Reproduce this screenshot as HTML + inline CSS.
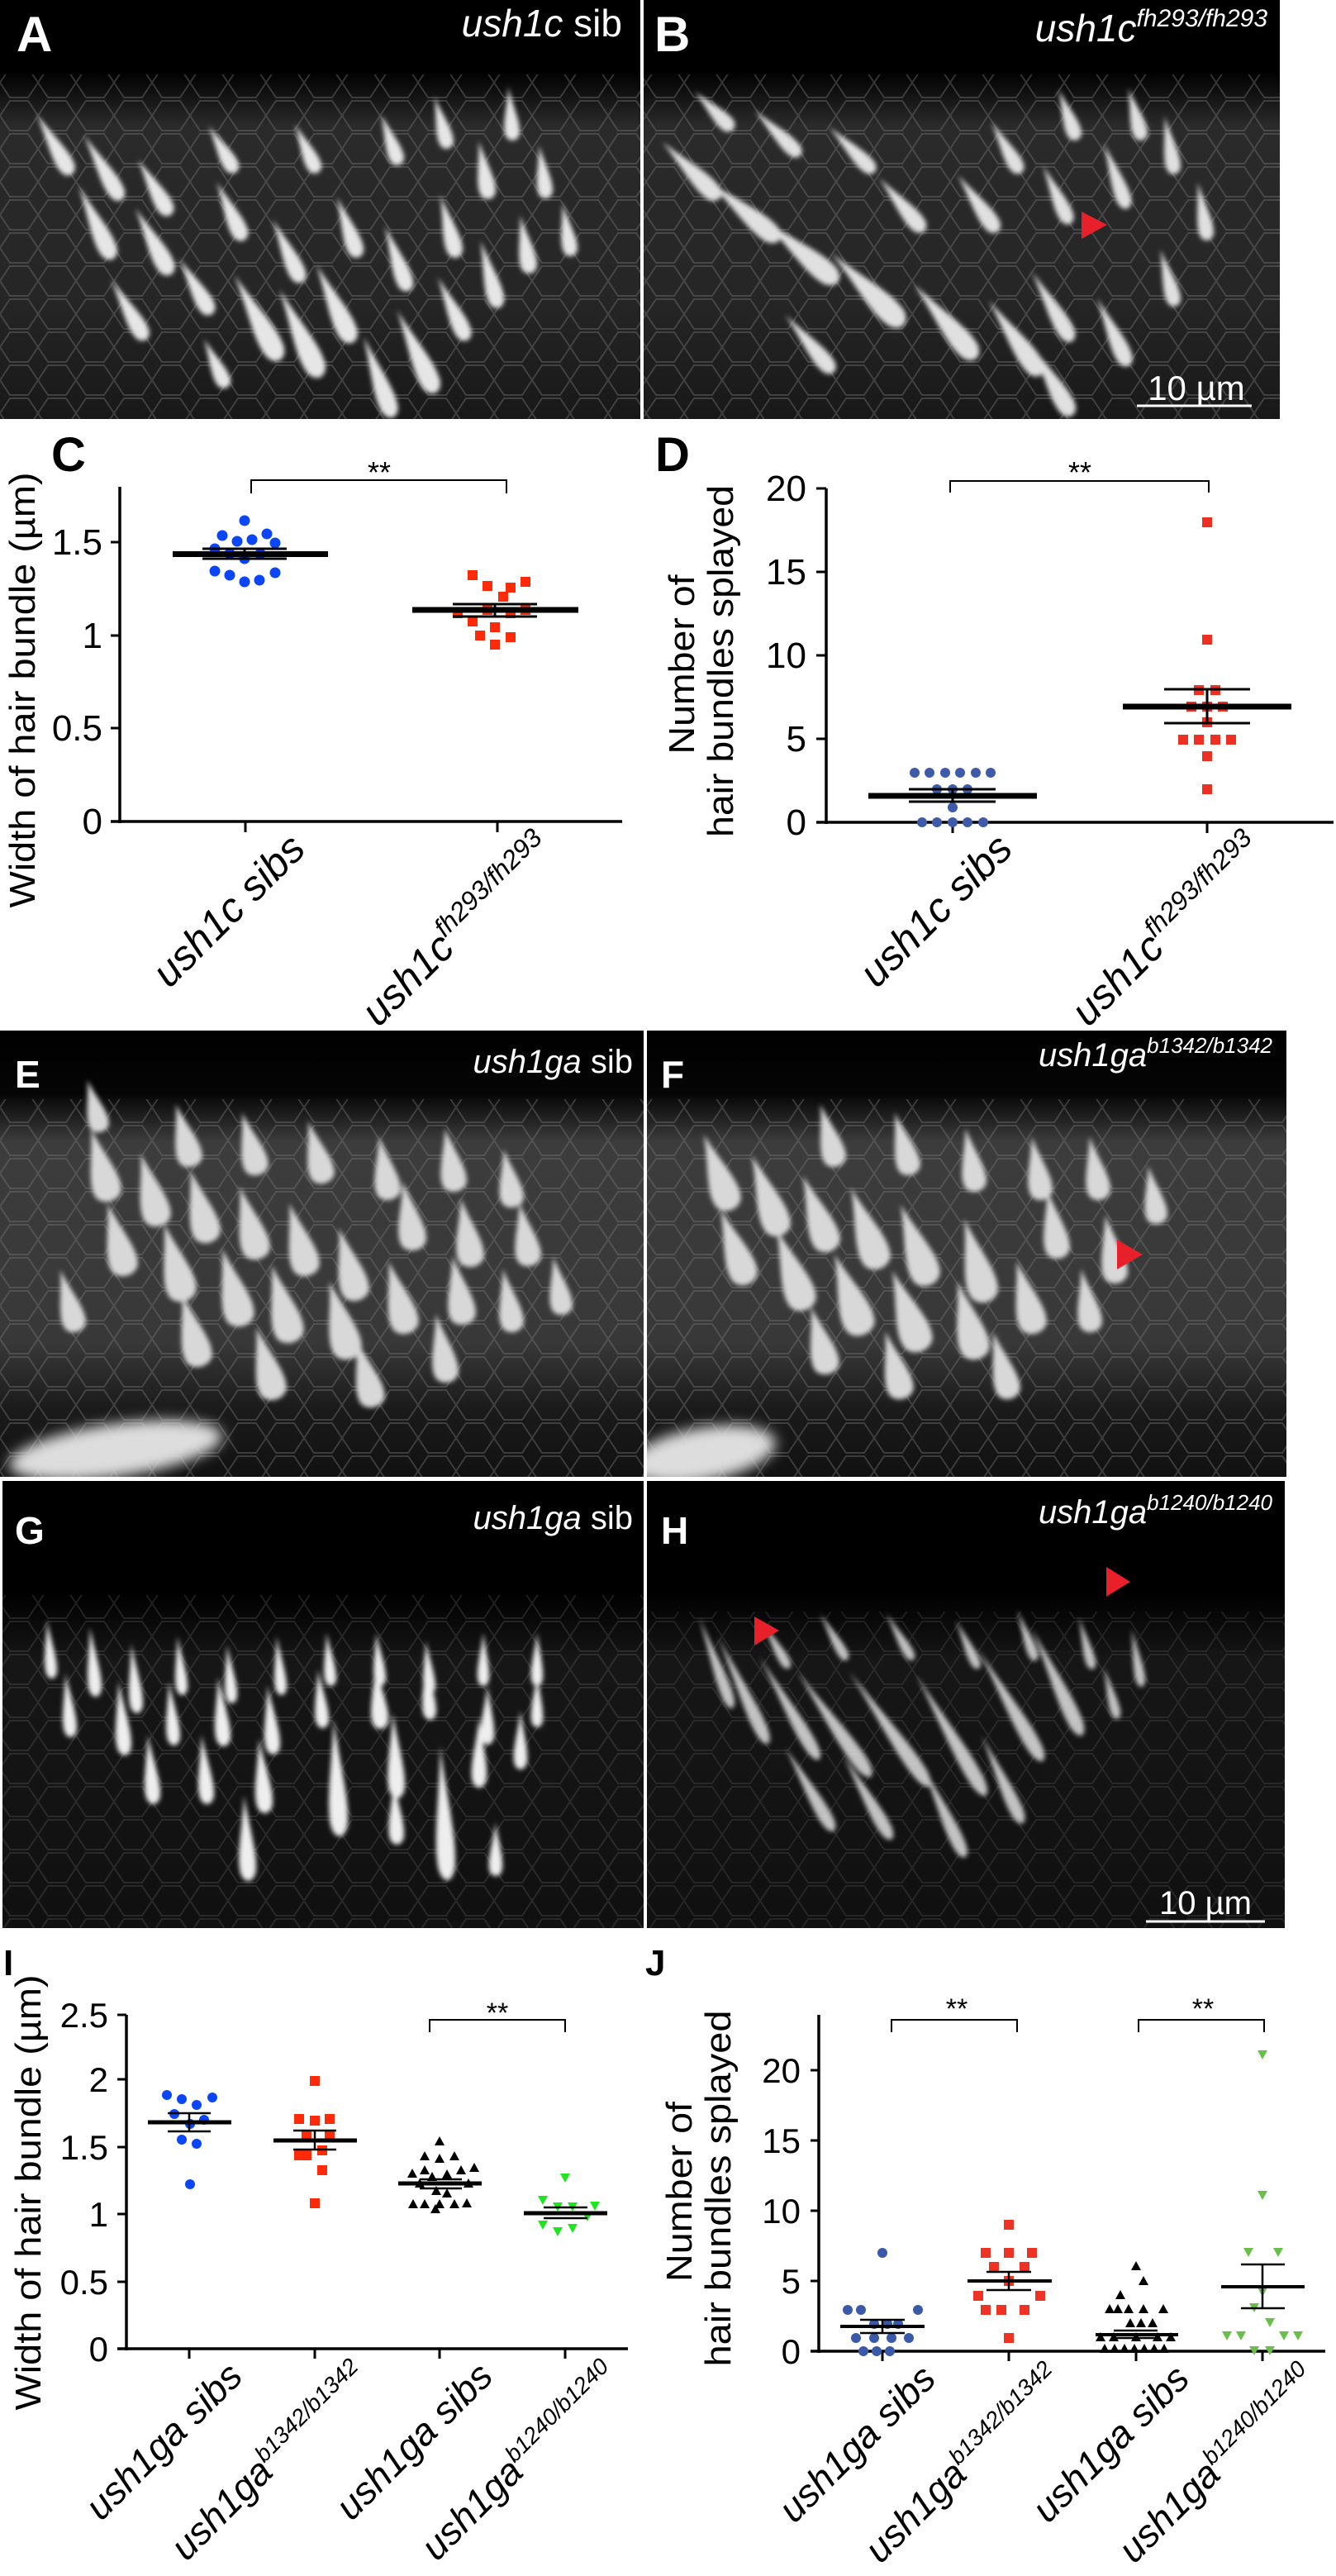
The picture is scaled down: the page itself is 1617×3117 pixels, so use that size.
<!DOCTYPE html>
<html><head><meta charset="utf-8"><style>
html,body{margin:0;padding:0;background:#fff;}
svg{display:block;}
text{font-family:"Liberation Sans",sans-serif;}
</style></head><body>
<svg width="1617" height="3117" viewBox="0 0 1617 3117" xmlns="http://www.w3.org/2000/svg">
<defs>
<filter id="bl" x="-50%" y="-50%" width="200%" height="200%"><feGaussianBlur stdDeviation="3"/></filter>
<filter id="bl2" x="-50%" y="-50%" width="200%" height="200%"><feGaussianBlur stdDeviation="8"/></filter>
<path id="cone" d="M0,-55 C3,-35 12,-12 10,0 A10,10 0 0 1 -10,0 C-12,-12 -3,-35 0,-55Z"/>
<pattern id="mesh" width="46" height="40" patternUnits="userSpaceOnUse">
<path d="M0,20 L12,2 L34,2 L46,20 L34,38 L12,38 Z" fill="none" stroke="#777" stroke-width="2" opacity="0.4"/>
</pattern>
<linearGradient id="gA" x1="0" y1="0" x2="0" y2="1"><stop offset="0" stop-color="#000"/><stop offset="0.17" stop-color="#000"/><stop offset="0.3" stop-color="#2a2a2a"/><stop offset="0.7" stop-color="#262626"/><stop offset="1" stop-color="#181818"/></linearGradient>
<linearGradient id="gE" x1="0" y1="0" x2="0" y2="1"><stop offset="0" stop-color="#000"/><stop offset="0.14" stop-color="#050505"/><stop offset="0.25" stop-color="#3c3c3c"/><stop offset="0.7" stop-color="#383838"/><stop offset="0.85" stop-color="#1a1a1a"/><stop offset="1" stop-color="#111"/></linearGradient>
<linearGradient id="gG" x1="0" y1="0" x2="0" y2="1"><stop offset="0" stop-color="#000"/><stop offset="0.25" stop-color="#000"/><stop offset="0.4" stop-color="#161616"/><stop offset="1" stop-color="#101010"/></linearGradient>
<clipPath id="cA"><rect x="0" y="0" width="775" height="507"/></clipPath>
<clipPath id="cB"><rect x="779" y="0" width="770" height="507"/></clipPath>
<clipPath id="cE"><rect x="0" y="1247" width="779" height="540"/></clipPath>
<clipPath id="cF"><rect x="783" y="1247" width="774" height="540"/></clipPath>
<clipPath id="cG"><rect x="3" y="1792" width="776" height="541"/></clipPath>
<clipPath id="cH"><rect x="783" y="1792" width="772" height="541"/></clipPath>
</defs>

<!-- Panel A -->
<g clip-path="url(#cA)">
<rect x="0" y="0" width="775" height="507" fill="url(#gA)"/>
<rect x="0" y="90" width="775" height="417" fill="url(#mesh)"/>
<g fill="#e6e6e6" filter="url(#bl)">
<use href="#cone" transform="translate(80,200) rotate(-30) scale(1,1.3)"/>
<use href="#cone" transform="translate(140,230) rotate(-30) scale(1,1.4)"/>
<use href="#cone" transform="translate(200,250) rotate(-30) scale(1,1.2)"/>
<use href="#cone" transform="translate(130,300) rotate(-25) scale(1.1,1.5)"/>
<use href="#cone" transform="translate(200,320) rotate(-28) scale(1.1,1.4)"/>
<use href="#cone" transform="translate(250,370) rotate(-30) scale(1,1.2)"/>
<use href="#cone" transform="translate(170,400) rotate(-30) scale(1,1.3)"/>
<use href="#cone" transform="translate(290,280) rotate(-25) scale(1,1.2)"/>
<use href="#cone" transform="translate(330,420) rotate(-28) scale(1.3,1.8)"/>
<use href="#cone" transform="translate(380,440) rotate(-25) scale(1.3,1.8)"/>
<use href="#cone" transform="translate(420,400) rotate(-25) scale(1.2,1.6)"/>
<use href="#cone" transform="translate(520,460) rotate(-25) scale(1.2,1.7)"/>
<use href="#cone" transform="translate(470,490) rotate(-20) scale(1.1,1.6)"/>
<use href="#cone" transform="translate(560,400) rotate(-25) scale(1,1.3)"/>
<use href="#cone" transform="translate(360,330) rotate(-25) scale(1,1.3)"/>
<use href="#cone" transform="translate(430,300) rotate(-20) scale(1,1.2)"/>
<use href="#cone" transform="translate(490,340) rotate(-20) scale(1,1.3)"/>
<use href="#cone" transform="translate(550,300) rotate(-15) scale(1,1.2)"/>
<use href="#cone" transform="translate(600,360) rotate(-15) scale(1,1.3)"/>
<use href="#cone" transform="translate(640,320) rotate(-10) scale(1,1.1)"/>
<use href="#cone" transform="translate(620,160) rotate(-5) scale(0.9,1)"/>
<use href="#cone" transform="translate(590,230) rotate(-10) scale(1,1.1)"/>
<use href="#cone" transform="translate(660,230) rotate(-8) scale(0.9,1)"/>
<use href="#cone" transform="translate(540,170) rotate(-15) scale(0.9,1)"/>
<use href="#cone" transform="translate(480,190) rotate(-20) scale(0.9,1)"/>
<use href="#cone" transform="translate(380,200) rotate(-25) scale(0.9,1)"/>
<use href="#cone" transform="translate(280,200) rotate(-30) scale(0.9,1)"/>
<use href="#cone" transform="translate(690,300) rotate(-10) scale(0.9,1)"/>
<use href="#cone" transform="translate(270,460) rotate(-25) scale(0.9,1)"/>
</g>
</g>
<text x="753" y="44" font-size="46" fill="#fff" text-anchor="end"><tspan font-style="italic">ush1c</tspan> sib</text>
<text x="20" y="62" font-size="60" font-weight="bold" fill="#fff">A</text>

<!-- Panel B -->
<g clip-path="url(#cB)">
<rect x="779" y="0" width="770" height="507" fill="url(#gA)"/>
<rect x="779" y="90" width="770" height="417" fill="url(#mesh)"/>
<g fill="#e0e0e0" filter="url(#bl)">
<use href="#cone" transform="translate(860,230) rotate(-45) scale(1.1,1.5)"/>
<use href="#cone" transform="translate(930,280) rotate(-50) scale(1.2,1.7)"/>
<use href="#cone" transform="translate(1000,330) rotate(-50) scale(1.3,1.8)"/>
<use href="#cone" transform="translate(1080,380) rotate(-45) scale(1.4,1.9)"/>
<use href="#cone" transform="translate(1170,420) rotate(-40) scale(1.3,1.8)"/>
<use href="#cone" transform="translate(1250,440) rotate(-35) scale(1.2,1.7)"/>
<use href="#cone" transform="translate(1290,400) rotate(-30) scale(1,1.5)"/>
<use href="#cone" transform="translate(1360,430) rotate(-25) scale(1,1.4)"/>
<use href="#cone" transform="translate(1290,490) rotate(-30) scale(1.1,1.5)"/>
<use href="#cone" transform="translate(1000,440) rotate(-40) scale(1,1.4)"/>
<use href="#cone" transform="translate(1110,270) rotate(-40) scale(1,1.3)"/>
<use href="#cone" transform="translate(1200,270) rotate(-35) scale(1,1.3)"/>
<use href="#cone" transform="translate(1290,260) rotate(-25) scale(0.9,1.2)"/>
<use href="#cone" transform="translate(1360,240) rotate(-20) scale(0.9,1.3)"/>
<use href="#cone" transform="translate(1420,200) rotate(-10) scale(0.9,1.1)"/>
<use href="#cone" transform="translate(1460,280) rotate(-10) scale(0.9,1.1)"/>
<use href="#cone" transform="translate(1380,160) rotate(-15) scale(0.9,1)"/>
<use href="#cone" transform="translate(1300,160) rotate(-20) scale(0.9,1)"/>
<use href="#cone" transform="translate(1230,200) rotate(-30) scale(0.9,1.1)"/>
<use href="#cone" transform="translate(1050,200) rotate(-45) scale(0.9,1.2)"/>
<use href="#cone" transform="translate(960,180) rotate(-45) scale(0.9,1.2)"/>
<use href="#cone" transform="translate(880,150) rotate(-45) scale(0.9,1)"/>
<use href="#cone" transform="translate(1420,360) rotate(-15) scale(0.9,1.1)"/>
</g>
</g>
<polygon points="1309,256 1340,272 1309,289" fill="#e8202a"/>
<text x="1534" y="50" font-size="46" fill="#fff" text-anchor="end" font-style="italic">ush1c<tspan font-size="30" dy="-18">fh293/fh293</tspan></text>
<text x="792" y="62" font-size="60" font-weight="bold" fill="#fff">B</text>
<line x1="1376" y1="491" x2="1515" y2="491" stroke="#fff" stroke-width="3"/>
<text x="1448" y="484" font-size="42" fill="#fff" text-anchor="middle">10 µm</text>

<!-- Chart C -->
<text x="62" y="570" font-size="58" font-weight="bold" fill="#000">C</text>
<g stroke="#000" fill="none">
<line x1="145" y1="589" x2="145" y2="996" stroke-width="3.5"/>
<line x1="134" y1="994" x2="753" y2="994" stroke-width="3.5"/>
<line x1="134" y1="881" x2="145" y2="881" stroke-width="3"/>
<line x1="134" y1="769" x2="145" y2="769" stroke-width="3"/>
<line x1="134" y1="656" x2="145" y2="656" stroke-width="3"/>
<line x1="297" y1="994" x2="297" y2="1007" stroke-width="3"/>
<line x1="602" y1="994" x2="602" y2="1007" stroke-width="3"/>
<polyline points="304,597 304,581 613,581 613,597" stroke-width="2"/>
</g>
<text x="459" y="584" font-size="36" text-anchor="middle">**</text>
<g font-size="44" text-anchor="end" fill="#000">
<text x="124" y="1009">0</text><text x="124" y="896">0.5</text><text x="124" y="784">1</text><text x="124" y="671">1.5</text>
</g>
<text transform="translate(42,835) rotate(-90)" font-size="44" text-anchor="middle" textLength="527" lengthAdjust="spacingAndGlyphs">Width of hair bundle (µm)</text>
<g fill="#0a46f5">
<circle cx="296" cy="630" r="6.5"/><circle cx="269" cy="648" r="6.5"/><circle cx="287" cy="655" r="6.5"/><circle cx="305" cy="653" r="6.5"/><circle cx="323" cy="646" r="6.5"/><circle cx="333" cy="657" r="6.5"/><circle cx="260" cy="664" r="6.5"/><circle cx="278" cy="670" r="6.5"/><circle cx="315" cy="670" r="6.5"/><circle cx="296" cy="676" r="6.5"/><circle cx="260" cy="691" r="6.5"/><circle cx="278" cy="696" r="6.5"/><circle cx="296" cy="704" r="6.5"/><circle cx="314" cy="702" r="6.5"/><circle cx="333" cy="693" r="6.5"/>
</g>
<g fill="#ff2a0a">
<rect x="566" y="690" width="12" height="12"/><rect x="584" y="703" width="12" height="12"/><rect x="612" y="705" width="12" height="12"/><rect x="630" y="698" width="12" height="12"/><rect x="603" y="716" width="12" height="12"/><rect x="548" y="736" width="12" height="12"/><rect x="584" y="732" width="12" height="12"/><rect x="612" y="736" width="12" height="12"/><rect x="630" y="732" width="12" height="12"/><rect x="566" y="746" width="12" height="12"/><rect x="593" y="753" width="12" height="12"/><rect x="575" y="763" width="12" height="12"/><rect x="612" y="765" width="12" height="12"/><rect x="593" y="774" width="12" height="12"/>
</g>
<g stroke="#000">
<line x1="209" y1="670.5" x2="397" y2="670.5" stroke-width="7"/>
<line x1="245" y1="664" x2="347" y2="664" stroke-width="3"/><line x1="245" y1="676" x2="347" y2="676" stroke-width="3"/><line x1="296" y1="664" x2="296" y2="676" stroke-width="3"/>
<line x1="499" y1="738" x2="700" y2="738" stroke-width="7"/>
<line x1="548" y1="731" x2="650" y2="731" stroke-width="3"/><line x1="548" y1="746" x2="650" y2="746" stroke-width="3"/><line x1="599" y1="731" x2="599" y2="746" stroke-width="3"/>
</g>
<g font-size="50" font-style="italic" text-anchor="end">
<text transform="translate(372,1030) rotate(-45)">ush1c sibs</text>
<text transform="translate(672,1030) rotate(-45)">ush1c<tspan font-size="32" dy="-20">fh293/fh293</tspan></text>
</g>

<!-- Chart D -->
<text x="793" y="570" font-size="58" font-weight="bold" fill="#000">D</text>
<g stroke="#000" fill="none">
<line x1="1000" y1="591" x2="1000" y2="997" stroke-width="3.5"/>
<line x1="988" y1="995" x2="1614" y2="995" stroke-width="3.5"/>
<line x1="988" y1="894" x2="1000" y2="894" stroke-width="3"/><line x1="988" y1="793" x2="1000" y2="793" stroke-width="3"/><line x1="988" y1="692" x2="1000" y2="692" stroke-width="3"/><line x1="988" y1="591" x2="1000" y2="591" stroke-width="3"/>
<line x1="1153" y1="995" x2="1153" y2="1008" stroke-width="3"/><line x1="1461" y1="995" x2="1461" y2="1008" stroke-width="3"/>
<polyline points="1150,596 1150,582 1463,582 1463,596" stroke-width="2"/>
</g>
<text x="1307" y="584" font-size="36" text-anchor="middle">**</text>
<g font-size="44" text-anchor="end">
<text x="976" y="1010">0</text><text x="976" y="909">5</text><text x="976" y="808">10</text><text x="976" y="707">15</text><text x="976" y="606">20</text>
</g>
<text transform="translate(840,804) rotate(-90)" font-size="44" text-anchor="middle" textLength="217" lengthAdjust="spacingAndGlyphs">Number of</text>
<text transform="translate(887,800) rotate(-90)" font-size="44" text-anchor="middle" textLength="426" lengthAdjust="spacingAndGlyphs">hair bundles splayed</text>
<g fill="#3f5aa8">
<circle cx="1107" cy="935" r="6"/><circle cx="1125" cy="935" r="6"/><circle cx="1144" cy="935" r="6"/><circle cx="1162" cy="935" r="6"/><circle cx="1181" cy="935" r="6"/><circle cx="1199" cy="935" r="6"/>
<circle cx="1134" cy="955" r="6"/><circle cx="1153" cy="955" r="6"/><circle cx="1171" cy="955" r="6"/><circle cx="1153" cy="977" r="6"/>
<circle cx="1116" cy="995" r="6"/><circle cx="1134" cy="995" r="6"/><circle cx="1153" cy="995" r="6"/><circle cx="1171" cy="995" r="6"/><circle cx="1190" cy="995" r="6"/>
</g>
<g fill="#ee3024">
<rect x="1455" y="626" width="12" height="12"/><rect x="1455" y="768" width="12" height="12"/><rect x="1445" y="829" width="12" height="12"/><rect x="1465" y="829" width="12" height="12"/><rect x="1436" y="849" width="12" height="12"/><rect x="1455" y="849" width="12" height="12"/><rect x="1474" y="849" width="12" height="12"/><rect x="1455" y="868" width="12" height="12"/><rect x="1426" y="889" width="12" height="12"/><rect x="1445" y="889" width="12" height="12"/><rect x="1465" y="889" width="12" height="12"/><rect x="1484" y="889" width="12" height="12"/><rect x="1455" y="909" width="12" height="12"/><rect x="1455" y="949" width="12" height="12"/>
</g>
<g stroke="#000">
<line x1="1051" y1="963" x2="1255" y2="963" stroke-width="7"/>
<line x1="1100" y1="955" x2="1205" y2="955" stroke-width="3"/><line x1="1100" y1="970" x2="1205" y2="970" stroke-width="3"/><line x1="1153" y1="955" x2="1153" y2="970" stroke-width="3"/>
<line x1="1359" y1="855" x2="1563" y2="855" stroke-width="7"/>
<line x1="1409" y1="834" x2="1513" y2="834" stroke-width="3"/><line x1="1409" y1="875" x2="1513" y2="875" stroke-width="3"/><line x1="1461" y1="834" x2="1461" y2="875" stroke-width="3"/>
</g>
<g font-size="50" font-style="italic" text-anchor="end">
<text transform="translate(1228,1030) rotate(-45)">ush1c sibs</text>
<text transform="translate(1531,1030) rotate(-45)">ush1c<tspan font-size="32" dy="-20">fh293/fh293</tspan></text>
</g>

<!-- Panel E -->
<g clip-path="url(#cE)">
<rect x="0" y="1247" width="779" height="540" fill="url(#gE)"/>
<rect x="0" y="1330" width="779" height="457" fill="url(#mesh)"/>
<g fill="#d8d8d8" filter="url(#bl)">
<use href="#cone" transform="translate(130,1440) rotate(-15) scale(1.7,1.4)"/><use href="#cone" transform="translate(190,1470) rotate(-15) scale(1.7,1.4)"/><use href="#cone" transform="translate(250,1490) rotate(-15) scale(1.7,1.4)"/><use href="#cone" transform="translate(310,1510) rotate(-15) scale(1.7,1.4)"/><use href="#cone" transform="translate(370,1530) rotate(-15) scale(1.7,1.4)"/><use href="#cone" transform="translate(430,1560) rotate(-15) scale(1.7,1.4)"/>
<use href="#cone" transform="translate(150,1530) rotate(-15) scale(1.7,1.4)"/><use href="#cone" transform="translate(220,1560) rotate(-15) scale(1.8,1.5)"/><use href="#cone" transform="translate(290,1590) rotate(-15) scale(1.8,1.5)"/><use href="#cone" transform="translate(350,1610) rotate(-15) scale(1.8,1.5)"/><use href="#cone" transform="translate(420,1630) rotate(-15) scale(1.8,1.5)"/><use href="#cone" transform="translate(490,1600) rotate(-15) scale(1.7,1.4)"/>
<use href="#cone" transform="translate(240,1640) rotate(-15) scale(1.7,1.4)"/><use href="#cone" transform="translate(330,1680) rotate(-15) scale(1.7,1.4)"/><use href="#cone" transform="translate(450,1690) rotate(-15) scale(1.6,1.3)"/>
<use href="#cone" transform="translate(230,1400) rotate(-15) scale(1.5,1.2)"/><use href="#cone" transform="translate(310,1410) rotate(-15) scale(1.5,1.2)"/><use href="#cone" transform="translate(390,1420) rotate(-15) scale(1.5,1.2)"/><use href="#cone" transform="translate(470,1440) rotate(-10) scale(1.5,1.2)"/><use href="#cone" transform="translate(550,1430) rotate(-10) scale(1.5,1.2)"/><use href="#cone" transform="translate(620,1450) rotate(-10) scale(1.4,1.1)"/>
<use href="#cone" transform="translate(500,1500) rotate(-10) scale(1.6,1.3)"/><use href="#cone" transform="translate(570,1520) rotate(-10) scale(1.6,1.3)"/><use href="#cone" transform="translate(640,1520) rotate(-10) scale(1.5,1.2)"/><use href="#cone" transform="translate(560,1590) rotate(-10) scale(1.6,1.3)"/><use href="#cone" transform="translate(620,1600) rotate(-10) scale(1.4,1.2)"/>
<use href="#cone" transform="translate(540,1660) rotate(-10) scale(1.5,1.3)"/><use href="#cone" transform="translate(120,1360) rotate(-15) scale(1.2,1)"/>
<use href="#cone" transform="translate(680,1580) rotate(-10) scale(1.3,1.1)"/><use href="#cone" transform="translate(90,1600) rotate(-15) scale(1.4,1.2)"/>
</g>
<ellipse cx="140" cy="1755" rx="130" ry="32" transform="rotate(-8 140 1755)" fill="#ddd" filter="url(#bl2)"/>
</g>
<text x="766" y="1298" font-size="40" fill="#fff" text-anchor="end"><tspan font-style="italic">ush1ga</tspan> sib</text>
<text x="18" y="1316" font-size="46" font-weight="bold" fill="#fff">E</text>

<!-- Panel F -->
<g clip-path="url(#cF)">
<rect x="783" y="1247" width="774" height="540" fill="url(#gE)"/>
<rect x="783" y="1330" width="774" height="457" fill="url(#mesh)"/>
<g fill="#d8d8d8" filter="url(#bl)">
<use href="#cone" transform="translate(880,1450) rotate(-20) scale(1.7,1.5)"/><use href="#cone" transform="translate(940,1480) rotate(-20) scale(1.7,1.6)"/><use href="#cone" transform="translate(1000,1500) rotate(-20) scale(1.7,1.5)"/><use href="#cone" transform="translate(1060,1520) rotate(-20) scale(1.8,1.6)"/><use href="#cone" transform="translate(1120,1540) rotate(-20) scale(1.8,1.6)"/><use href="#cone" transform="translate(1190,1560) rotate(-15) scale(1.8,1.6)"/>
<use href="#cone" transform="translate(900,1540) rotate(-20) scale(1.7,1.5)"/><use href="#cone" transform="translate(970,1570) rotate(-20) scale(1.8,1.6)"/><use href="#cone" transform="translate(1040,1600) rotate(-20) scale(1.9,1.6)"/><use href="#cone" transform="translate(1110,1620) rotate(-20) scale(1.9,1.6)"/><use href="#cone" transform="translate(1180,1630) rotate(-15) scale(1.8,1.5)"/><use href="#cone" transform="translate(1250,1600) rotate(-15) scale(1.7,1.4)"/>
<use href="#cone" transform="translate(1000,1650) rotate(-15) scale(1.6,1.3)"/><use href="#cone" transform="translate(1090,1680) rotate(-15) scale(1.6,1.3)"/><use href="#cone" transform="translate(1220,1680) rotate(-15) scale(1.5,1.3)"/>
<use href="#cone" transform="translate(1010,1400) rotate(-15) scale(1.4,1.2)"/><use href="#cone" transform="translate(1100,1410) rotate(-15) scale(1.4,1.2)"/><use href="#cone" transform="translate(1180,1430) rotate(-10) scale(1.4,1.2)"/><use href="#cone" transform="translate(1260,1440) rotate(-10) scale(1.4,1.2)"/><use href="#cone" transform="translate(1330,1440) rotate(-10) scale(1.4,1.2)"/><use href="#cone" transform="translate(1400,1470) rotate(-10) scale(1.3,1.1)"/>
<use href="#cone" transform="translate(1280,1510) rotate(-10) scale(1.5,1.3)"/><use href="#cone" transform="translate(1350,1540) rotate(-10) scale(1.5,1.3)"/><use href="#cone" transform="translate(1320,1600) rotate(-10) scale(1.4,1.2)"/>
</g>
<ellipse cx="850" cy="1760" rx="90" ry="32" transform="rotate(-10 850 1760)" fill="#ddd" filter="url(#bl2)"/>
</g>
<polygon points="1352,1500 1383,1518 1352,1536" fill="#e8202a"/>
<text x="1540" y="1290" font-size="40" fill="#fff" text-anchor="end" font-style="italic">ush1ga<tspan font-size="26" dy="-16">b1342/b1342</tspan></text>
<text x="800" y="1316" font-size="46" font-weight="bold" fill="#fff">F</text>

<!-- Panel G -->
<g clip-path="url(#cG)">
<rect x="3" y="1792" width="776" height="541" fill="url(#gG)"/>
<rect x="3" y="1930" width="776" height="403" fill="url(#mesh)" opacity="0.6"/>
<g fill="#eee" filter="url(#bl)">
<use href="#cone" transform="translate(62,2020) rotate(-5) scale(0.7,1.1)"/><use href="#cone" transform="translate(115,2040) rotate(-5) scale(0.8,1.3)"/><use href="#cone" transform="translate(165,2060) rotate(-5) scale(0.8,1.3)"/><use href="#cone" transform="translate(220,2040) rotate(-5) scale(0.7,1.1)"/><use href="#cone" transform="translate(280,2050) rotate(-5) scale(0.7,1.1)"/><use href="#cone" transform="translate(340,2040) rotate(-5) scale(0.7,1.1)"/><use href="#cone" transform="translate(400,2030) rotate(-5) scale(0.7,1)"/><use href="#cone" transform="translate(460,2030) rotate(-5) scale(0.7,1)"/><use href="#cone" transform="translate(520,2040) rotate(-5) scale(0.7,1)"/><use href="#cone" transform="translate(585,2030) rotate(0) scale(0.7,1)"/><use href="#cone" transform="translate(650,2030) rotate(0) scale(0.7,1)"/>
<use href="#cone" transform="translate(85,2090) rotate(-5) scale(0.8,1.2)"/><use href="#cone" transform="translate(150,2110) rotate(-5) scale(0.9,1.4)"/><use href="#cone" transform="translate(210,2100) rotate(-5) scale(0.8,1.2)"/><use href="#cone" transform="translate(270,2100) rotate(-5) scale(0.9,1.3)"/><use href="#cone" transform="translate(330,2110) rotate(-5) scale(0.9,1.3)"/><use href="#cone" transform="translate(390,2080) rotate(-5) scale(0.8,1.1)"/><use href="#cone" transform="translate(460,2080) rotate(-5) scale(1,1.2)"/><use href="#cone" transform="translate(520,2070) rotate(-5) scale(0.8,1.1)"/><use href="#cone" transform="translate(590,2100) rotate(0) scale(0.8,1.1)"/><use href="#cone" transform="translate(650,2080) rotate(0) scale(0.7,1)"/>
<use href="#cone" transform="translate(185,2170) rotate(-5) scale(0.9,1.3)"/><use href="#cone" transform="translate(250,2170) rotate(-5) scale(0.9,1.3)"/><use href="#cone" transform="translate(320,2180) rotate(-5) scale(1,1.4)"/><use href="#cone" transform="translate(410,2200) rotate(-3) scale(1.1,2.2)"/><use href="#cone" transform="translate(480,2160) rotate(-3) scale(1,1.6)"/><use href="#cone" transform="translate(540,2250) rotate(-3) scale(1.1,2.5)"/><use href="#cone" transform="translate(580,2150) rotate(0) scale(0.9,1.3)"/><use href="#cone" transform="translate(630,2130) rotate(0) scale(0.8,1.1)"/>
<use href="#cone" transform="translate(300,2260) rotate(-3) scale(1,1.6)"/><use href="#cone" transform="translate(480,2220) rotate(-3) scale(0.9,1.2)"/><use href="#cone" transform="translate(600,2260) rotate(0) scale(0.8,1)"/>
</g>
</g>
<text x="766" y="1850" font-size="40" fill="#fff" text-anchor="end"><tspan font-style="italic">ush1ga</tspan> sib</text>
<text x="18" y="1868" font-size="46" font-weight="bold" fill="#fff">G</text>

<!-- Panel H -->
<g clip-path="url(#cH)">
<rect x="783" y="1792" width="772" height="541" fill="url(#gG)"/>
<rect x="783" y="1950" width="772" height="383" fill="url(#mesh)" opacity="0.5"/>
<g fill="#d6d6d6" filter="url(#bl)" opacity="0.9">
<use href="#cone" transform="translate(880,2050) rotate(-20) scale(0.7,1.8)"/><use href="#cone" transform="translate(920,2090) rotate(-25) scale(0.8,2.2)"/><use href="#cone" transform="translate(980,2110) rotate(-30) scale(0.8,2.2)"/><use href="#cone" transform="translate(1040,2130) rotate(-35) scale(0.9,2.4)"/><use href="#cone" transform="translate(1110,2140) rotate(-35) scale(0.9,2.6)"/><use href="#cone" transform="translate(1180,2150) rotate(-30) scale(0.9,2.6)"/><use href="#cone" transform="translate(1250,2110) rotate(-30) scale(0.9,2.4)"/><use href="#cone" transform="translate(1300,2080) rotate(-25) scale(0.9,2.2)"/>
<use href="#cone" transform="translate(1000,2200) rotate(-30) scale(0.8,1.8)"/><use href="#cone" transform="translate(1070,2210) rotate(-30) scale(0.8,1.8)"/><use href="#cone" transform="translate(1160,2230) rotate(-25) scale(0.8,1.9)"/><use href="#cone" transform="translate(1230,2190) rotate(-25) scale(0.8,1.8)"/>
<use href="#cone" transform="translate(950,2010) rotate(-30) scale(0.6,1)"/><use href="#cone" transform="translate(1020,2000) rotate(-30) scale(0.6,1)"/><use href="#cone" transform="translate(1100,2000) rotate(-30) scale(0.6,1)"/><use href="#cone" transform="translate(1180,2010) rotate(-25) scale(0.6,1)"/><use href="#cone" transform="translate(1250,2000) rotate(-20) scale(0.6,1)"/><use href="#cone" transform="translate(1320,2010) rotate(-15) scale(0.6,1)"/><use href="#cone" transform="translate(1380,2030) rotate(-10) scale(0.6,1.1)"/><use href="#cone" transform="translate(1350,2070) rotate(-15) scale(0.6,1)"/>
</g>
</g>
<polygon points="913,1956 943,1973 913,1991" fill="#e8202a"/>
<polygon points="1339,1896 1368,1914 1339,1932" fill="#e8202a"/>
<text x="1540" y="1843" font-size="40" fill="#fff" text-anchor="end" font-style="italic">ush1ga<tspan font-size="26" dy="-16">b1240/b1240</tspan></text>
<text x="800" y="1868" font-size="46" font-weight="bold" fill="#fff">H</text>
<line x1="1387" y1="2325" x2="1531" y2="2325" stroke="#fff" stroke-width="3"/>
<text x="1459" y="2316" font-size="40" fill="#fff" text-anchor="middle">10 µm</text>

<!-- Chart I -->
<text x="4" y="2390" font-size="44" font-weight="bold">I</text>
<g stroke="#000" fill="none">
<line x1="153" y1="2438" x2="153" y2="2844" stroke-width="3.5"/>
<line x1="142" y1="2842" x2="760" y2="2842" stroke-width="3.5"/>
<line x1="142" y1="2761" x2="153" y2="2761" stroke-width="3"/><line x1="142" y1="2679" x2="153" y2="2679" stroke-width="3"/><line x1="142" y1="2598" x2="153" y2="2598" stroke-width="3"/><line x1="142" y1="2516" x2="153" y2="2516" stroke-width="3"/><line x1="142" y1="2438" x2="153" y2="2438" stroke-width="3"/>
<line x1="229" y1="2842" x2="229" y2="2854" stroke-width="3"/><line x1="381" y1="2842" x2="381" y2="2854" stroke-width="3"/><line x1="532" y1="2842" x2="532" y2="2854" stroke-width="3"/><line x1="684" y1="2842" x2="684" y2="2854" stroke-width="3"/>
<polyline points="520,2459 520,2444 684,2444 684,2459" stroke-width="2"/>
</g>
<text x="602" y="2447" font-size="34" text-anchor="middle">**</text>
<g font-size="42" text-anchor="end">
<text x="131" y="2857">0</text><text x="131" y="2776">0.5</text><text x="131" y="2694">1</text><text x="131" y="2613">1.5</text><text x="131" y="2531">2</text><text x="131" y="2453">2.5</text>
</g>
<text transform="translate(49,2653) rotate(-90)" font-size="44" text-anchor="middle" textLength="527" lengthAdjust="spacingAndGlyphs">Width of hair bundle (µm)</text>
<g fill="#0a46f5">
<circle cx="202" cy="2535" r="6"/><circle cx="220" cy="2540" r="6"/><circle cx="238" cy="2547" r="6"/><circle cx="257" cy="2538" r="6"/><circle cx="211" cy="2558" r="6"/><circle cx="230" cy="2570" r="6"/><circle cx="247" cy="2565" r="6"/><circle cx="220" cy="2589" r="6"/><circle cx="238" cy="2594" r="6"/><circle cx="230" cy="2643" r="6"/>
</g>
<g fill="#ff2a0a">
<rect x="375" y="2512" width="12" height="12"/><rect x="356" y="2558" width="12" height="12"/><rect x="375" y="2560" width="12" height="12"/><rect x="393" y="2558" width="12" height="12"/><rect x="365" y="2579" width="12" height="12"/><rect x="393" y="2579" width="12" height="12"/><rect x="356" y="2602" width="12" height="12"/><rect x="365" y="2602" width="12" height="12"/><rect x="384" y="2596" width="12" height="12"/><rect x="384" y="2620" width="12" height="12"/><rect x="375" y="2660" width="12" height="12"/>
</g>
<g fill="#000">
<polygon points="532,2585 538,2596 526,2596"/><polygon points="514,2603 520,2614 508,2614"/><polygon points="532,2606 538,2617 526,2617"/><polygon points="550,2603 556,2614 544,2614"/><polygon points="499,2624 505,2635 493,2635"/><polygon points="514,2620 520,2631 508,2631"/><polygon points="541,2625 547,2636 535,2636"/><polygon points="558,2620 564,2631 552,2631"/><polygon points="574,2617 580,2628 568,2628"/><polygon points="523,2628 529,2639 517,2639"/><polygon points="508,2636 514,2647 502,2647"/><polygon points="567,2636 573,2647 561,2647"/><polygon points="528,2645 534,2656 522,2656"/><polygon points="541,2648 547,2659 535,2659"/><polygon points="500,2661 506,2672 494,2672"/><polygon points="514,2661 520,2672 508,2672"/><polygon points="532,2661 538,2672 526,2672"/><polygon points="550,2661 556,2672 544,2672"/><polygon points="565,2660 571,2671 559,2671"/><polygon points="527,2667 533,2678 521,2678"/>
</g>
<g fill="#1ee61e">
<polygon points="678,2630 690,2630 684,2641"/><polygon points="651,2657 663,2657 657,2668"/><polygon points="669,2665 681,2665 675,2676"/><polygon points="687,2665 699,2665 693,2676"/><polygon points="714,2664 726,2664 720,2675"/><polygon points="705,2677 717,2677 711,2688"/><polygon points="651,2687 663,2687 657,2698"/><polygon points="669,2695 681,2695 675,2706"/><polygon points="687,2691 699,2691 693,2702"/>
</g>
<g stroke="#000">
<line x1="179" y1="2568" x2="280" y2="2568" stroke-width="5"/><line x1="203" y1="2557" x2="255" y2="2557" stroke-width="2.5"/><line x1="203" y1="2579" x2="255" y2="2579" stroke-width="2.5"/><line x1="229" y1="2557" x2="229" y2="2579" stroke-width="2.5"/>
<line x1="331" y1="2590" x2="432" y2="2590" stroke-width="5"/><line x1="355" y1="2578" x2="407" y2="2578" stroke-width="2.5"/><line x1="355" y1="2601" x2="407" y2="2601" stroke-width="2.5"/><line x1="381" y1="2578" x2="381" y2="2601" stroke-width="2.5"/>
<line x1="482" y1="2642" x2="583" y2="2642" stroke-width="5"/><line x1="508" y1="2637" x2="559" y2="2637" stroke-width="2.5"/><line x1="508" y1="2648" x2="559" y2="2648" stroke-width="2.5"/>
<line x1="634" y1="2678" x2="735" y2="2678" stroke-width="5"/><line x1="658" y1="2671" x2="711" y2="2671" stroke-width="2.5"/><line x1="658" y1="2684" x2="711" y2="2684" stroke-width="2.5"/>
</g>
<g font-size="46" font-style="italic" text-anchor="end">
<text transform="translate(296,2878) rotate(-45)">ush1ga sibs</text>
<text transform="translate(448,2878) rotate(-45)">ush1ga<tspan font-size="28" dy="-18">b1342/b1342</tspan></text>
<text transform="translate(599,2878) rotate(-45)">ush1ga sibs</text>
<text transform="translate(751,2878) rotate(-45)">ush1ga<tspan font-size="28" dy="-18">b1240/b1240</tspan></text>
</g>

<!-- Chart J -->
<text x="781" y="2390" font-size="44" font-weight="bold">J</text>
<g stroke="#000" fill="none">
<line x1="991" y1="2438" x2="991" y2="2847" stroke-width="3.5"/>
<line x1="981" y1="2845" x2="1604" y2="2845" stroke-width="3.5"/>
<line x1="981" y1="2760" x2="991" y2="2760" stroke-width="3"/><line x1="981" y1="2675" x2="991" y2="2675" stroke-width="3"/><line x1="981" y1="2590" x2="991" y2="2590" stroke-width="3"/><line x1="981" y1="2505" x2="991" y2="2505" stroke-width="3"/>
<line x1="1068" y1="2845" x2="1068" y2="2857" stroke-width="3"/><line x1="1221" y1="2845" x2="1221" y2="2857" stroke-width="3"/><line x1="1375" y1="2845" x2="1375" y2="2857" stroke-width="3"/><line x1="1528" y1="2845" x2="1528" y2="2857" stroke-width="3"/>
<polyline points="1079,2459 1079,2444 1231,2444 1231,2459" stroke-width="2"/>
<polyline points="1378,2459 1378,2444 1530,2444 1530,2459" stroke-width="2"/>
</g>
<text x="1158" y="2442" font-size="34" text-anchor="middle">**</text>
<text x="1456" y="2442" font-size="34" text-anchor="middle">**</text>
<g font-size="42" text-anchor="end">
<text x="969" y="2860">0</text><text x="969" y="2775">5</text><text x="969" y="2690">10</text><text x="969" y="2605">15</text><text x="969" y="2520">20</text>
</g>
<text transform="translate(837,2652) rotate(-90)" font-size="44" text-anchor="middle" textLength="218" lengthAdjust="spacingAndGlyphs">Number of</text>
<text transform="translate(884,2648) rotate(-90)" font-size="44" text-anchor="middle" textLength="431" lengthAdjust="spacingAndGlyphs">hair bundles splayed</text>
<g fill="#3a59a8">
<circle cx="1068" cy="2726" r="6"/><circle cx="1026" cy="2795" r="6"/><circle cx="1042" cy="2795" r="6"/><circle cx="1111" cy="2795" r="6"/><circle cx="1058" cy="2812" r="6"/><circle cx="1074" cy="2812" r="6"/><circle cx="1087" cy="2812" r="6"/><circle cx="1036" cy="2829" r="6"/><circle cx="1058" cy="2829" r="6"/><circle cx="1079" cy="2829" r="6"/><circle cx="1100" cy="2829" r="6"/><circle cx="1045" cy="2845" r="6"/><circle cx="1061" cy="2845" r="6"/><circle cx="1077" cy="2845" r="6"/>
</g>
<g fill="#ee3224">
<rect x="1215" y="2686" width="12" height="12"/><rect x="1187" y="2720" width="12" height="12"/><rect x="1215" y="2720" width="12" height="12"/><rect x="1243" y="2720" width="12" height="12"/><rect x="1197" y="2737" width="12" height="12"/><rect x="1234" y="2737" width="12" height="12"/><rect x="1215" y="2754" width="12" height="12"/><rect x="1178" y="2772" width="12" height="12"/><rect x="1253" y="2772" width="12" height="12"/><rect x="1187" y="2789" width="12" height="12"/><rect x="1206" y="2789" width="12" height="12"/><rect x="1234" y="2789" width="12" height="12"/><rect x="1215" y="2823" width="12" height="12"/>
</g>
<g fill="#000">
<polygon points="1375,2736 1381,2747 1369,2747"/><polygon points="1384,2754 1390,2765 1378,2765"/><polygon points="1356,2771 1362,2782 1350,2782"/>
<polygon points="1343,2788 1349,2799 1337,2799"/><polygon points="1353,2788 1359,2799 1347,2799"/><polygon points="1366,2788 1372,2799 1360,2799"/><polygon points="1384,2788 1390,2799 1378,2799"/><polygon points="1408,2788 1414,2799 1402,2799"/>
<polygon points="1368,2805 1374,2816 1362,2816"/><polygon points="1381,2805 1387,2816 1375,2816"/><polygon points="1395,2805 1401,2816 1389,2816"/>
<polygon points="1332,2822 1338,2833 1326,2833"/><polygon points="1348,2822 1354,2833 1342,2833"/><polygon points="1375,2822 1381,2833 1369,2833"/><polygon points="1401,2822 1407,2833 1395,2833"/><polygon points="1417,2822 1423,2833 1411,2833"/>
<polygon points="1337,2836 1343,2847 1331,2847"/><polygon points="1349,2836 1355,2847 1343,2847"/><polygon points="1361,2836 1367,2847 1355,2847"/><polygon points="1373,2836 1379,2847 1367,2847"/><polygon points="1385,2836 1391,2847 1379,2847"/><polygon points="1397,2836 1403,2847 1391,2847"/><polygon points="1409,2836 1415,2847 1403,2847"/>
</g>
<g fill="#6abf4b">
<polygon points="1522,2481 1534,2481 1528,2492"/><polygon points="1522,2651 1534,2651 1528,2662"/><polygon points="1505,2720 1517,2720 1511,2731"/><polygon points="1541,2720 1553,2720 1547,2731"/><polygon points="1522,2768 1534,2768 1528,2779"/><polygon points="1512,2787 1524,2787 1518,2798"/><polygon points="1531,2805 1543,2805 1537,2816"/><polygon points="1479,2821 1491,2821 1485,2832"/><polygon points="1496,2821 1508,2821 1502,2832"/><polygon points="1548,2821 1560,2821 1554,2832"/><polygon points="1565,2821 1577,2821 1571,2832"/><polygon points="1512,2839 1524,2839 1518,2850"/><polygon points="1531,2839 1543,2839 1537,2850"/>
</g>
<g stroke="#000">
<line x1="1017" y1="2815" x2="1119" y2="2815" stroke-width="4"/><line x1="1041" y1="2807" x2="1095" y2="2807" stroke-width="2.5"/><line x1="1041" y1="2823" x2="1095" y2="2823" stroke-width="2.5"/><line x1="1068" y1="2807" x2="1068" y2="2823" stroke-width="2.5"/>
<line x1="1171" y1="2760" x2="1273" y2="2760" stroke-width="4"/><line x1="1194" y1="2749" x2="1248" y2="2749" stroke-width="2.5"/><line x1="1194" y1="2771" x2="1248" y2="2771" stroke-width="2.5"/><line x1="1221" y1="2749" x2="1221" y2="2771" stroke-width="2.5"/>
<line x1="1326" y1="2825" x2="1426" y2="2825" stroke-width="4"/><line x1="1348" y1="2820" x2="1401" y2="2820" stroke-width="2.5"/><line x1="1348" y1="2829" x2="1401" y2="2829" stroke-width="2.5"/>
<line x1="1478" y1="2767" x2="1579" y2="2767" stroke-width="4"/><line x1="1502" y1="2740" x2="1555" y2="2740" stroke-width="2.5"/><line x1="1502" y1="2793" x2="1555" y2="2793" stroke-width="2.5"/><line x1="1528" y1="2740" x2="1528" y2="2793" stroke-width="2.5"/>
</g>
<g font-size="46" font-style="italic" text-anchor="end">
<text transform="translate(1135,2881) rotate(-45)">ush1ga sibs</text>
<text transform="translate(1288,2881) rotate(-45)">ush1ga<tspan font-size="28" dy="-18">b1342/b1342</tspan></text>
<text transform="translate(1442,2881) rotate(-45)">ush1ga sibs</text>
<text transform="translate(1595,2881) rotate(-45)">ush1ga<tspan font-size="28" dy="-18">b1240/b1240</tspan></text>
</g>
</svg>
</body></html>
